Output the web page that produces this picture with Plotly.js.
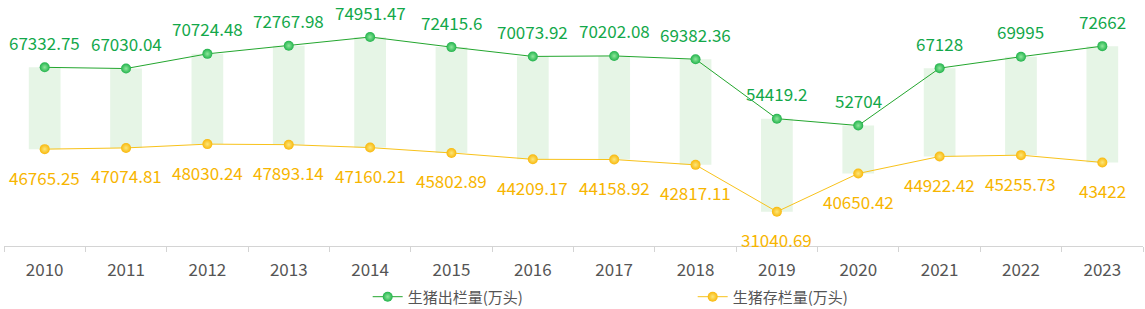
<!DOCTYPE html>
<html>
<head>
<meta charset="utf-8">
<script src="https://cdn.plot.ly/plotly-3.0.1.min.js"></script>
<style>html,body{margin:0;padding:0;background:#fff;}#chart{width:1145px;height:309px;}</style>
</head>
<body>
<div id="chart"></div>
<script>
const years = ['2010','2011','2012','2013','2014','2015','2016','2017','2018','2019','2020','2021','2022','2023'];
const slaughter = [67332.75, 67030.04, 70724.48, 72767.98, 74951.47, 72415.6, 70073.92, 70202.08, 69382.36, 54419.2, 52704, 67128, 69995, 72662];
const stock = [46765.25, 47074.81, 48030.24, 47893.14, 47160.21, 45802.89, 44209.17, 44158.92, 42817.11, 31040.69, 40650.42, 44922.42, 45255.73, 43422];
const slaughterLabels = ['67332.75','67030.04','70724.48','72767.98','74951.47','72415.6','70073.92','70202.08','69382.36','54419.2','52704','67128','69995','72662'];
const stockLabels = ['46765.25','47074.81','48030.24','47893.14','47160.21','45802.89','44209.17','44158.92','42817.11','31040.69','40650.42','44922.42','45255.73','43422'];
const name1 = '生猪出栏量(万头)';
const name2 = '生猪存栏量(万头)';

const FONT = '"Noto Sans CJK SC", "Noto Sans", sans-serif';
const GREEN = '#13a84a';
const YELLOW = '#f7b500';

const barTrace = {
  type: 'bar', x: years,
  y: slaughter.map((v, i) => v - stock[i]),
  base: stock,
  width: 0.39,
  marker: {color: '#e6f5e6'},
  showlegend: false, hoverinfo: 'skip'
};
const t1 = {
  type: 'scatter', mode: 'lines+markers', name: name1, x: years, y: slaughter,
  line: {color: '#23a62e', width: 1},
  marker: {size: 10, color: '#22b34c', gradient: {type: 'radial', color: '#8fe79c'}},
  hoverinfo: 'skip'
};
const t2 = {
  type: 'scatter', mode: 'lines+markers', name: name2, x: years, y: stock,
  line: {color: '#f8c21a', width: 1},
  marker: {size: 10, color: '#f9b80c', gradient: {type: 'radial', color: '#fbe67a'}},
  hoverinfo: 'skip'
};

const annotations = [];
years.forEach((yr, i) => {
  annotations.push({x: i, y: slaughter[i], text: slaughterLabels[i], showarrow: false, yshift: 25,
    font: {family: FONT, size: 17, color: GREEN}});
  annotations.push({x: i, y: stock[i], text: stockLabels[i], showarrow: false, yshift: -28,
    font: {family: FONT, size: 17, color: YELLOW}});
});

const layout = {
  width: 1145, height: 309,
  margin: {l: 4, r: 2, t: 10, b: 63, autoexpand: false},
  paper_bgcolor: '#fff', plot_bgcolor: '#fff',
  font: {family: FONT, color: '#555'},
  xaxis: {
    type: 'category', range: [-0.5, 13.5], autorange: false, automargin: false,
    showgrid: false, showline: true, linecolor: '#d4d4d4', linewidth: 1,
    ticks: 'outside', tickson: 'boundaries', ticklen: 5, tickcolor: '#d4d4d4', tickangle: 0,
    ticklabelstandoff: 9,
    tickfont: {family: FONT, size: 17, color: '#555'}, fixedrange: true
  },
  yaxis: {range: [22420, 81745], autorange: false, visible: false, showgrid: false, zeroline: false, fixedrange: true},
  showlegend: true,
  legend: {
    orientation: 'h', x: 0.3193, xanchor: 'left', yref: 'container', y: 0.039, yanchor: 'middle',
    font: {family: FONT, size: 15, color: '#555'},
    entrywidth: 280, entrywidthmode: 'pixels', itemclick: false, itemdoubleclick: false
  },
  annotations: annotations,
  barmode: 'overlay'
};

Plotly.newPlot('chart', [barTrace, t1, t2], layout, {displayModeBar: false, staticPlot: true});
</script>
</body>
</html>
